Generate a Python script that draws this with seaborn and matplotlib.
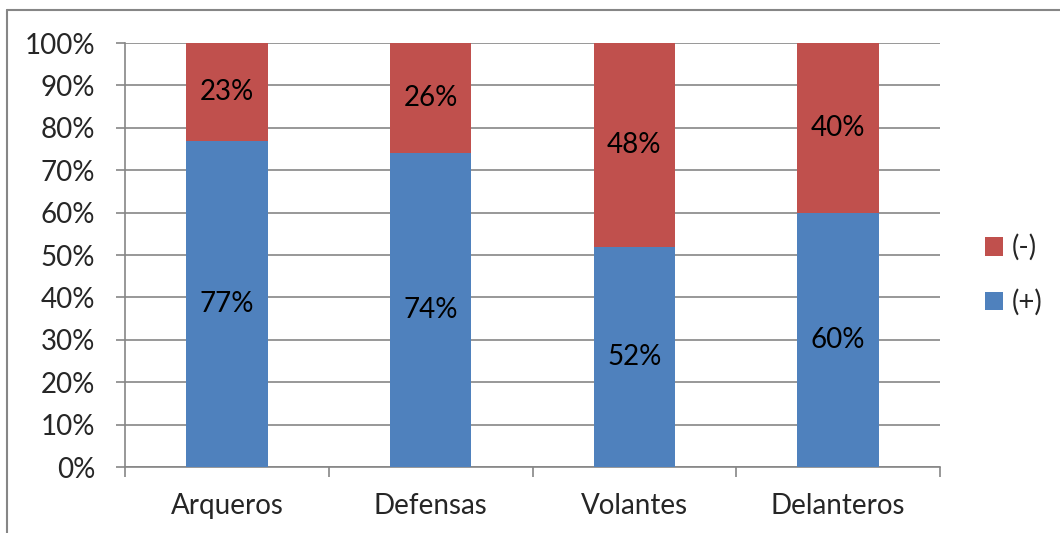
import matplotlib
matplotlib.use('Agg')
import matplotlib.pyplot as plt
import seaborn as sns
import pandas as pd
from matplotlib.lines import Line2D
from matplotlib.patches import Patch

categories = ['Arqueros', 'Defensas', 'Volantes', 'Delanteros']
positivo = [77, 74, 52, 60]
negativo = [23, 26, 48, 40]
series_names = ['(-)', '(+)']
pal = {'(+)': '#4F81BD', '(-)': '#C0504D'}
grid_col = '#868686'
fs = 20


def main():
    sns.set_style('white')
    plt.rcParams['font.family'] = ['Lato', 'DejaVu Sans']

    df = pd.DataFrame({'Category': categories, 'pos': positivo, 'neg': negativo})

    fig = plt.figure(figsize=(10.6, 5.33), dpi=100)
    ax = fig.add_axes([125 / 1060, 66 / 533, 815 / 1060, 424 / 533])

    sns.barplot(data=df, x='Category', y='pos', order=categories, color=pal['(+)'],
                width=0.4, saturation=1, ax=ax, zorder=3, linewidth=0)
    sns.barplot(data=df, x='Category', y='neg', order=categories, color=pal['(-)'],
                width=0.4, saturation=1, ax=ax, zorder=3, linewidth=0, bottom=df['pos'].values)

    for cont in ax.containers:
        ax.bar_label(cont, labels=['%d%%' % v for v in cont.datavalues],
                     label_type='center', fontsize=fs, color='black')

    ax.set_ylim(0, 100)
    ax.set_xlim(-0.5, 3.5)
    ax.set_yticks(range(0, 101, 10))
    ax.set_yticklabels(['%d%%' % t for t in range(0, 101, 10)], fontsize=fs)
    ax.set_xticks(range(len(categories)))
    ax.set_xticklabels(categories, fontsize=fs)
    ax.set_xticks([i - 0.5 for i in range(len(categories) + 1)], minor=True)
    ax.tick_params(axis='x', which='major', length=0, pad=19)
    ax.tick_params(axis='x', which='minor', length=7, width=1.2, color=grid_col, direction='out', bottom=True)
    ax.tick_params(axis='y', length=6.5, width=1.2, color=grid_col, direction='out', pad=15, left=True)
    ax.set_xlabel('')
    ax.set_ylabel('')

    ax.yaxis.grid(True, color=grid_col, linewidth=1.2, zorder=0)
    ax.set_axisbelow(True)
    for s in ['top', 'right']:
        ax.spines[s].set_visible(False)
    for s in ['left', 'bottom']:
        ax.spines[s].set_color(grid_col)
        ax.spines[s].set_linewidth(1.2)

    handles = [Patch(facecolor=pal[n], edgecolor='none', label=n) for n in series_names]
    fig.legend(handles=handles, loc='center left', bbox_to_anchor=(960 / 1060, 1 - 275 / 533),
               frameon=False, fontsize=fs, handlelength=0.65, handleheight=0.65,
               handletextpad=0.3, labelspacing=1.0)

    # outer chart border (top and left edges visible)
    fig.add_artist(Line2D([7 / 1060, 7 / 1060], [0, 1 - 10 / 533], color=grid_col, linewidth=1.5,
                          transform=fig.transFigure))
    fig.add_artist(Line2D([7 / 1060, 1], [1 - 10 / 533, 1 - 10 / 533], color=grid_col, linewidth=1.5,
                          transform=fig.transFigure))

    fig.savefig('out.png', dpi=100)
    plt.close(fig)


if __name__ == '__main__':
    main()
